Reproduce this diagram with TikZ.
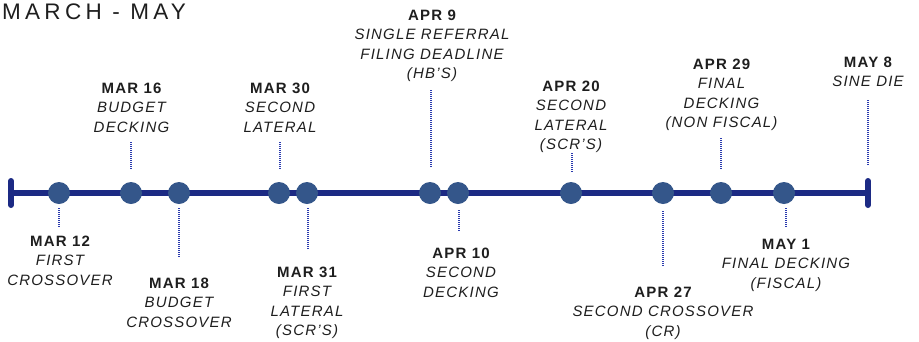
\documentclass[tikz,border=0pt]{standalone}
\usepackage{fontspec}
\newfontfamily\lblfont[LetterSpace=8]{Liberation Sans}
\newfontfamily\titlefont[LetterSpace=19]{Liberation Sans}
\definecolor{navy}{HTML}{1C2A84}
\definecolor{dotblue}{HTML}{34568A}
\definecolor{tickblue}{HTML}{2A3AAE}
\definecolor{ink}{HTML}{1E1E1E}
\newcommand{\ev}[1]{\begin{tabular}[t]{@{}c@{}}#1\end{tabular}}
\newcommand{\dt}[1]{{\upshape\bfseries #1}}
\tikzset{
  lbl/.style={anchor=base, inner sep=0pt, text=ink,
    font=\fontsize{15}{19.5}\selectfont\lblfont\itshape},
  event/.style={circle, fill=dotblue, minimum size=22pt, inner sep=0pt},
  tick/.style={tickblue, line width=1.1pt, dash pattern=on 1pt off 1pt},
  axis/.style={navy, line width=6pt},
  endcap/.style={navy, line width=6pt, line cap=round}
}
\begin{document}
\begin{tikzpicture}[x=1pt, y=-1pt]
\useasboundingbox (0,0) rectangle (919,341);

\node[anchor=base west, inner sep=0pt, text=ink,
  font=\fontsize{22.5}{26}\selectfont\titlefont] (title) at (2,19) {MARCH - MAY};

% axis
\coordinate (L) at (11,193);
\coordinate (R) at (868,193);
\coordinate (Lt) at (11,181);
\coordinate (Lb) at (11,205);
\coordinate (Rt) at (868,181);
\coordinate (Rb) at (868,205);
\draw[axis] (L) -- (R);
\draw[endcap] (Lt) -- (Lb);
\draw[endcap] (Rt) -- (Rb);

% events
\node[event] (e12) at (59,193) {};
\node[event] (e16) at (131,193) {};
\node[event] (e18) at (179,193) {};
\node[event] (e30) at (279,193) {};
\node[event] (e31) at (307,193) {};
\node[event] (a9) at (430,193) {};
\node[event] (a10) at (458,193) {};
\node[event] (a20) at (571,193) {};
\node[event] (a27) at (663,193) {};
\node[event] (a29) at (721,193) {};
\node[event] (y1) at (784,193) {};

% labels above
\node[lbl] (l16) at (131.5,93) {\ev{\dt{MAR 16}\\BUDGET\\DECKING}};
\node[lbl] (l30) at (280,93) {\ev{\dt{MAR 30}\\SECOND\\LATERAL}};
\node[lbl] (l9) at (432,20) {\ev{\dt{APR 9}\\SINGLE REFERRAL\\FILING DEADLINE\\(HB’S)}};
\node[lbl] (l20) at (571,91) {\ev{\dt{APR 20}\\SECOND\\LATERAL\\(SCR’S)}};
\node[lbl] (l29) at (721.5,69) {\ev{\dt{APR 29}\\FINAL\\DECKING\\(NON FISCAL)}};
\node[lbl] (l8) at (868,67) {\ev{\dt{MAY 8}\\SINE DIE}};

% labels below
\node[lbl] (l12) at (60,246) {\ev{\dt{MAR 12}\\FIRST\\CROSSOVER}};
\node[lbl] (l18) at (179,288) {\ev{\dt{MAR 18}\\BUDGET\\CROSSOVER}};
\node[lbl] (l31) at (307,277) {\ev{\dt{MAR 31}\\FIRST\\LATERAL\\(SCR’S)}};
\node[lbl] (l10) at (461,258) {\ev{\dt{APR 10}\\SECOND\\DECKING}};
\node[lbl] (l27) at (663,297) {\ev{\dt{APR 27}\\SECOND CROSSOVER\\(CR)}};
\node[lbl] (l1) at (786,249) {\ev{\dt{MAY 1}\\FINAL DECKING\\(FISCAL)}};

% ticks above
\coordinate (t16a) at (131,142); \coordinate (t16b) at (131,169);
\coordinate (t30a) at (280,142); \coordinate (t30b) at (280,169);
\coordinate (t9a) at (431,90);   \coordinate (t9b) at (431,168);
\coordinate (t20a) at (572,153); \coordinate (t20b) at (572,172);
\coordinate (t29a) at (721,138); \coordinate (t29b) at (721,170);
\coordinate (t8a) at (868,100);  \coordinate (t8b) at (868,166);
\draw[tick] (t16a) -- (t16b);
\draw[tick] (t30a) -- (t30b);
\draw[tick] (t9a) -- (t9b);
\draw[tick] (t20a) -- (t20b);
\draw[tick] (t29a) -- (t29b);
\draw[tick] (t8a) -- (t8b);

% ticks below
\coordinate (t12a) at (59,208);  \coordinate (t12b) at (59,227);
\coordinate (t18a) at (179,208); \coordinate (t18b) at (179,258);
\coordinate (t31a) at (308,208); \coordinate (t31b) at (308,250);
\coordinate (t10a) at (459,210); \coordinate (t10b) at (459,232);
\coordinate (t27a) at (663,211); \coordinate (t27b) at (663,267);
\coordinate (t1a) at (786,208);  \coordinate (t1b) at (786,227);
\draw[tick] (t12a) -- (t12b);
\draw[tick] (t18a) -- (t18b);
\draw[tick] (t31a) -- (t31b);
\draw[tick] (t10a) -- (t10b);
\draw[tick] (t27a) -- (t27b);
\draw[tick] (t1a) -- (t1b);
\end{tikzpicture}
\end{document}
